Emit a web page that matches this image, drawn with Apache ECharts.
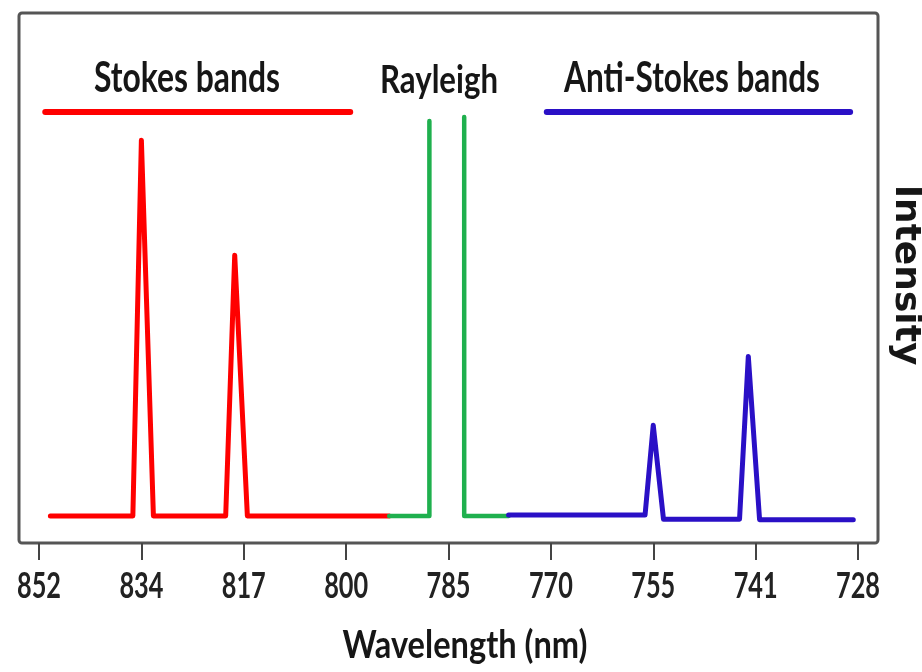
<!DOCTYPE html>
<html>
<head>
<meta charset="utf-8">
<script src="https://cdn.jsdelivr.net/npm/echarts@6/dist/echarts.min.js"></script>
<style>
  html, body { margin: 0; padding: 0; background: #fff; }
  #chart { width: 922px; height: 672px; }
</style>
</head>
<body>
<div id="chart"></div>
<script>
// Wavelength tick labels (nm), evenly spaced along the axis
const tickLabels = [852, 834, 817, 800, 785, 770, 755, 741, 728];

// Stokes bands (red)
const stokesNm = [850, 835.5, 834, 832, 820, 818.5, 816.4, 793.7];
const stokesI  = [5.1, 5.1, 76, 5.1, 5.1, 54.3, 5.1, 5.1];

// Rayleigh line (green); '-' breaks the trace between the two edges
const rayleighNm = [793.7, 787.8, 787.8, 785, 782.7, 782.7, 776.2];
const rayleighI  = [5.1, 5.1, 79.6, '-', 80.4, 5.1, 5.1];

// Anti-Stokes bands (blue)
const antiNm = [776.2, 756.2, 755, 753.6, 743.2, 742, 740.5, 728.6];
const antiI  = [5.3, 5.3, 22.2, 4.5, 4.5, 35.2, 4.4, 4.4];

// Range markers drawn above each group
const stokesRange = [850.9, 799.4];
const antiRange = [770.6, 729];
const rangeLevel = 81.3;

// Map a wavelength onto the evenly spaced tick scale
function toAxis(nm) {
  for (let i = 0; i < tickLabels.length - 1; i++) {
    const a = tickLabels[i], b = tickLabels[i + 1];
    if (nm <= a && nm >= b) return i + (a - nm) / (a - b);
  }
  return nm > tickLabels[0] ? 0 : tickLabels.length - 1;
}
function pairs(xs, ys) {
  return xs.map((x, i) => [toAxis(x), ys[i]]);
}

const RED = '#ff0000', GREEN = '#1fb04e', BLUE = '#2a10c6';
const FACE = 'Lato, "Open Sans", "Liberation Sans", sans-serif';
const INK = '#161616';

// Horizontal squeeze that makes a string span the wanted width
const measureCtx = document.createElement('canvas').getContext('2d');
function squeeze(text, font, width) {
  measureCtx.font = font;
  return width / measureCtx.measureText(text).width;
}
function label(text, x, y, size, width, weight) {
  const font = (weight || 'bold') + ' ' + size + 'px ' + FACE;
  return {
    type: 'text', x, y, silent: true, scaleX: squeeze(text, font, width),
    style: { text, fill: INK, font, align: 'center', verticalAlign: 'middle' }
  };
}

const chart = echarts.init(document.getElementById('chart'), null, { renderer: 'canvas' });

function trace(data, color, width) {
  return {
    type: 'line', data, symbol: 'none', silent: true, animation: false,
    lineStyle: { color, width, cap: 'round', join: 'round' }
  };
}

chart.setOption({
  backgroundColor: '#fff',
  animation: false,
  grid: { left: 39, right: 64, top: 13, bottom: 129, containLabel: false },
  xAxis: {
    type: 'value', min: 0, max: 8, interval: 1,
    axisLine: { show: false },
    axisTick: { show: true, length: 17, lineStyle: { color: '#444', width: 2 } },
    splitLine: { show: false },
    axisLabel: { show: false }
  },
  yAxis: { type: 'value', min: 0, max: 100, show: false },
  series: [
    trace(pairs(stokesNm, stokesI), RED, 5),
    trace(pairs(rayleighNm, rayleighI), GREEN, 4.5),
    trace(pairs(antiNm, antiI), BLUE, 5),
    trace(pairs(stokesRange, [rangeLevel, rangeLevel]), RED, 6),
    trace(pairs(antiRange, [rangeLevel, rangeLevel]), BLUE, 6)
  ]
});

// Tick labels placed under each tick through the axis scale
const tickFont = 'bold 37px ' + FACE;
const tickSqueeze = squeeze('852', tickFont, 44);
const tickTexts = tickLabels.map((v, i) => ({
  type: 'text', silent: true, x: chart.convertToPixel({ xAxisIndex: 0 }, i), y: 586,
  scaleX: tickSqueeze,
  style: { text: String(v), fill: '#222', font: tickFont, align: 'center', verticalAlign: 'middle' }
}));

chart.setOption({
  graphic: [
    {
      type: 'rect', z: -1, silent: true,
      shape: { x: 19, y: 13, width: 859, height: 530, r: 3 },
      style: { fill: 'none', stroke: '#555', lineWidth: 3 }
    },
    label('Stokes bands', 187, 78, 42, 186),
    label('Rayleigh', 439, 80, 39, 118),
    label('Anti-Stokes bands', 692, 78, 42, 256),
    label('Wavelength (nm)', 465, 645, 39, 245),
    {
      type: 'text', x: 905, y: 275, rotation: -Math.PI / 2, silent: true,
      style: { text: 'Intensity', fill: INK, font: 'bold 36px "DejaVu Sans", sans-serif', align: 'center', verticalAlign: 'middle' }
    }
  ].concat(tickTexts)
});
</script>
</body>
</html>
